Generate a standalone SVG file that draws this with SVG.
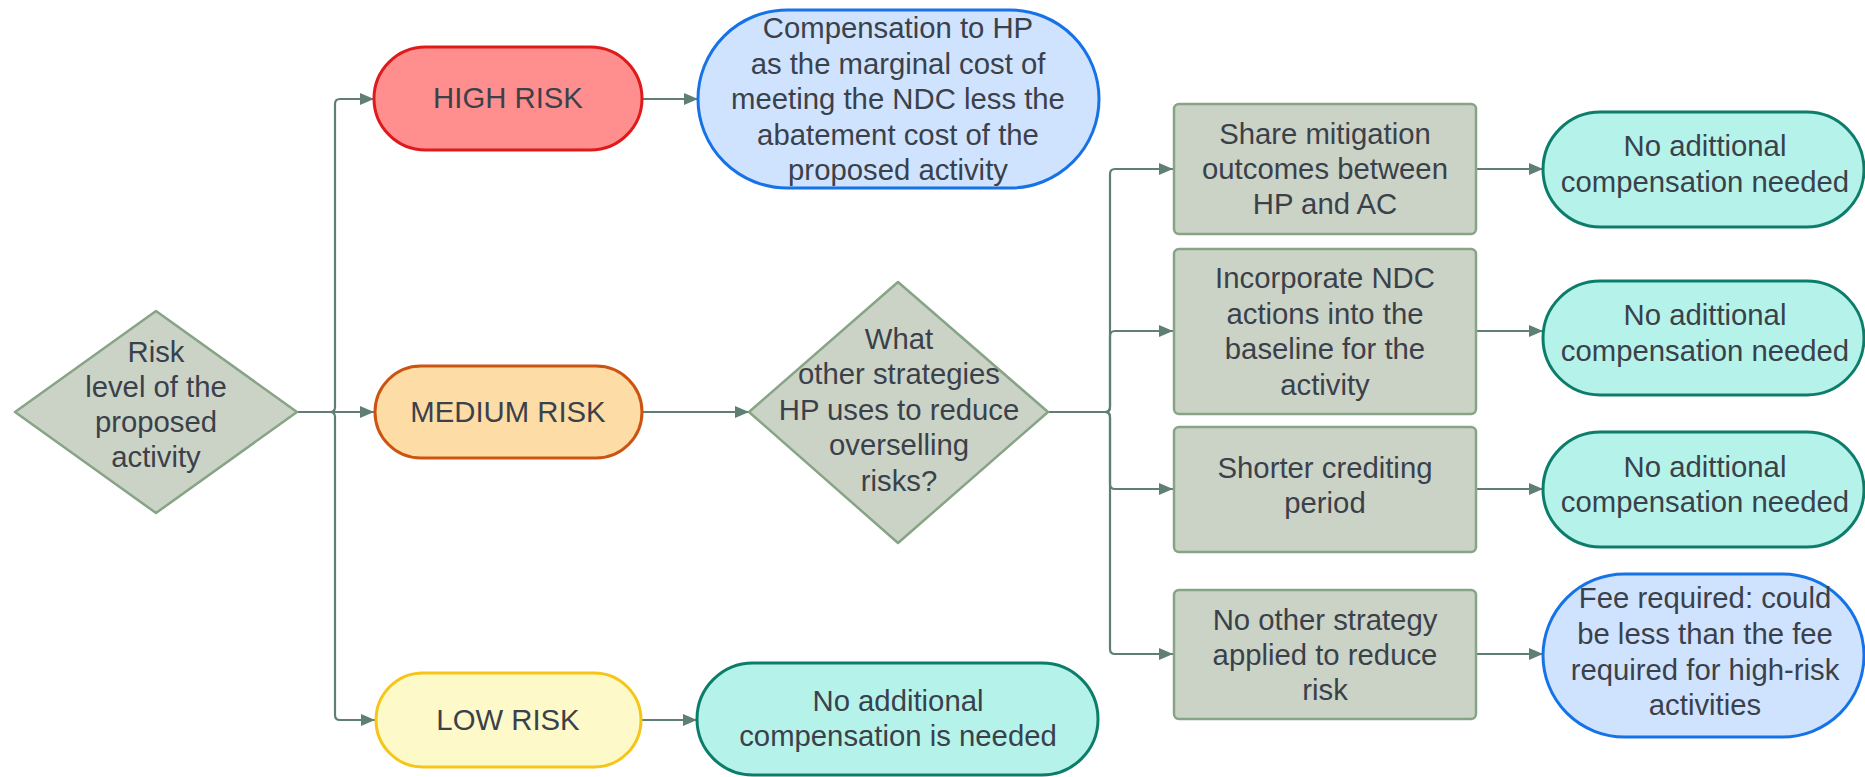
<svg xmlns="http://www.w3.org/2000/svg" width="1865" height="777" viewBox="0 0 1865 777">
<defs>
<style>
text{font-family:"Liberation Sans",Arial,sans-serif;font-size:29.3px;fill:#3a414a;text-anchor:middle}
.conn{fill:none;stroke:#5f7f74;stroke-width:2.2;marker-end:url(#arr)}
.dia{fill:#cbd3c6;stroke:#87a486;stroke-width:2.5;stroke-linejoin:round}
.box{fill:#cbd3c6;stroke:#87a486;stroke-width:2.5}
.teal{fill:#b5f3ea;stroke:#0c7d6a;stroke-width:3}
.blue{fill:#cfe3fe;stroke:#1672e6;stroke-width:3}
</style>
<marker id="arr" markerUnits="userSpaceOnUse" markerWidth="14" markerHeight="12" refX="14" refY="6" orient="auto">
<path d="M0,0 L14,6 L0,12 z" fill="#5f7f74"/>
</marker>
</defs>
<rect width="1865" height="777" fill="#ffffff"/>
<g id="connectors">
<path class="conn" d="M297,412 H330 Q335,412 335,407 V104 Q335,99 340,99 H374"/>
<path class="conn" d="M297,412 H374"/>
<path class="conn" d="M297,412 H330 Q335,412 335,417 V715 Q335,720 340,720 H375"/>
<path class="conn" d="M642,99 H698"/>
<path class="conn" d="M642,412 H749"/>
<path class="conn" d="M641,720 H697"/>
<path class="conn" d="M1048,412 H1105 Q1110,412 1110,407 V174 Q1110,169 1115,169 H1173"/>
<path class="conn" d="M1048,412 H1105 Q1110,412 1110,407 V336 Q1110,331 1115,331 H1173"/>
<path class="conn" d="M1048,412 H1105 Q1110,412 1110,417 V484 Q1110,489 1115,489 H1173"/>
<path class="conn" d="M1048,412 H1105 Q1110,412 1110,417 V649 Q1110,654 1115,654 H1173"/>
<path class="conn" d="M1476,169 H1543"/>
<path class="conn" d="M1476,331 H1543"/>
<path class="conn" d="M1476,489 H1543"/>
<path class="conn" d="M1476,654 H1543"/>
</g>
<g id="risk-level">
<polygon class="dia" points="15,412 156,311 297,412 156,513"/>
<text x="156" y="362">Risk</text>
<text x="156" y="397">level of the</text>
<text x="156" y="432">proposed</text>
<text x="156" y="467">activity</text>
</g>
<g id="high-risk">
<rect x="374" y="47" width="268" height="103" rx="51.5" fill="#ff8f8f" stroke="#e01a1a" stroke-width="3"/>
<text x="508" y="108">HIGH RISK</text>
</g>
<g id="compensation">
<rect class="blue" x="698" y="10" width="401" height="178" rx="89"/>
<text x="898" y="38">Compensation to HP</text>
<text x="898" y="74">as the marginal cost of</text>
<text x="898" y="109">meeting the NDC less the</text>
<text x="898" y="145">abatement cost of the</text>
<text x="898" y="180">proposed activity</text>
</g>
<g id="medium-risk">
<rect x="375" y="366" width="267" height="92" rx="46" fill="#fedca6" stroke="#cc5410" stroke-width="3"/>
<text x="508" y="422">MEDIUM RISK</text>
</g>
<g id="low-risk">
<rect x="376" y="673" width="265" height="94" rx="47" fill="#fef9c8" stroke="#f5c517" stroke-width="3"/>
<text x="508" y="730">LOW RISK</text>
</g>
<g id="no-additional">
<rect class="teal" x="697" y="663" width="401" height="112" rx="56"/>
<text x="898" y="711">No additional</text>
<text x="898" y="746">compensation is needed</text>
</g>
<g id="strategies">
<polygon class="dia" points="749,412 898,282 1048,412 898,543"/>
<text x="899" y="349">What</text>
<text x="899" y="384">other strategies</text>
<text x="899" y="420">HP uses to reduce</text>
<text x="899" y="455">overselling</text>
<text x="899" y="491">risks?</text>
</g>
<g id="share">
<rect class="box" x="1174" y="104" width="302" height="130" rx="5"/>
<text x="1325" y="144">Share mitigation</text>
<text x="1325" y="179">outcomes between</text>
<text x="1325" y="214">HP and AC</text>
</g>
<g id="incorporate">
<rect class="box" x="1174" y="249" width="302" height="165" rx="5"/>
<text x="1325" y="288">Incorporate NDC</text>
<text x="1325" y="324">actions into the</text>
<text x="1325" y="359">baseline for the</text>
<text x="1325" y="395">activity</text>
</g>
<g id="shorter">
<rect class="box" x="1174" y="427" width="302" height="125" rx="5"/>
<text x="1325" y="478">Shorter crediting</text>
<text x="1325" y="513">period</text>
</g>
<g id="no-other">
<rect class="box" x="1174" y="590" width="302" height="129" rx="5"/>
<text x="1325" y="630">No other strategy</text>
<text x="1325" y="665">applied to reduce</text>
<text x="1325" y="700">risk</text>
</g>
<g id="no-comp-1">
<rect class="teal" x="1543" y="112" width="321" height="115" rx="57.5"/>
<text x="1705" y="156">No adittional</text>
<text x="1705" y="192">compensation needed</text>
</g>
<g id="no-comp-2">
<rect class="teal" x="1543" y="281" width="321" height="114" rx="57"/>
<text x="1705" y="325">No adittional</text>
<text x="1705" y="361">compensation needed</text>
</g>
<g id="no-comp-3">
<rect class="teal" x="1543" y="432" width="321" height="115" rx="57.5"/>
<text x="1705" y="477">No adittional</text>
<text x="1705" y="512">compensation needed</text>
</g>
<g id="fee">
<rect class="blue" x="1543" y="574" width="321" height="163" rx="81.5"/>
<text x="1705" y="608">Fee required: could</text>
<text x="1705" y="644">be less than the fee</text>
<text x="1705" y="680">required for high-risk</text>
<text x="1705" y="715">activities</text>
</g>
</svg>
